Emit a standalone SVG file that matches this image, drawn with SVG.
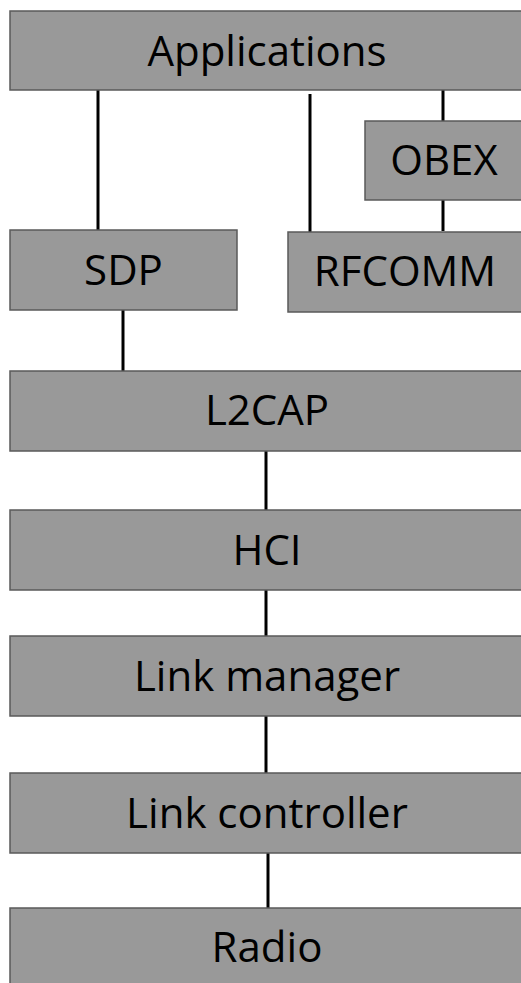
<svg xmlns="http://www.w3.org/2000/svg" width="521" height="983" viewBox="0 0 521 983">
<style>
.box{fill:#999999;stroke:#5a5a5a;stroke-width:1.5}
.lbl{font-family:"Open Sans","Liberation Sans",sans-serif;font-size:42px;fill:#000;text-anchor:middle}
.wire{stroke:#000;stroke-width:3;fill:none}
</style>
<rect width="521" height="983" fill="#fff"/>
<g id="connectors">
<line class="wire" x1="98" y1="90" x2="98" y2="231"/>
<line class="wire" x1="310" y1="94" x2="310" y2="232"/>
<line class="wire" x1="443" y1="90" x2="443" y2="121"/>
<line class="wire" x1="443" y1="200" x2="443" y2="231"/>
<line class="wire" x1="123" y1="310" x2="123" y2="371"/>
<line class="wire" x1="266" y1="451" x2="266" y2="511"/>
<line class="wire" x1="266" y1="590" x2="266" y2="636"/>
<line class="wire" x1="266" y1="716" x2="266" y2="777"/>
<line class="wire" x1="268" y1="853" x2="268" y2="914"/>
</g>
<g id="applications"><rect class="box" x="10" y="11" width="514" height="79"/><text class="lbl" x="267" y="66">Applications</text></g>
<g id="obex"><rect class="box" x="365" y="121" width="159" height="79"/><text class="lbl" x="444" y="175">OBEX</text></g>
<g id="sdp"><rect class="box" x="10" y="230" width="227" height="80"/><text class="lbl" x="123.5" y="285">SDP</text></g>
<g id="rfcomm"><rect class="box" x="288" y="232" width="236" height="80"/><text class="lbl" x="405" y="286">RFCOMM</text></g>
<g id="l2cap"><rect class="box" x="10" y="371" width="514" height="80"/><text class="lbl" x="267" y="425">L2CAP</text></g>
<g id="hci"><rect class="box" x="10" y="510" width="514" height="80"/><text class="lbl" x="267" y="565">HCI</text></g>
<g id="link-manager"><rect class="box" x="10" y="636" width="514" height="80"/><text class="lbl" x="267" y="691">Link manager</text></g>
<g id="link-controller"><rect class="box" x="10" y="773" width="514" height="80"/><text class="lbl" x="267" y="828">Link controller</text></g>
<g id="radio"><rect class="box" x="10" y="908" width="514" height="80"/><text class="lbl" x="267" y="962">Radio</text></g>
</svg>
